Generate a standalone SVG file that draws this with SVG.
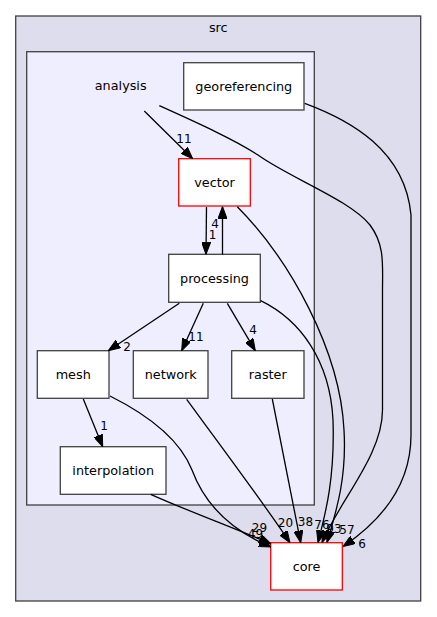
<svg xmlns="http://www.w3.org/2000/svg" width="437" height="617" viewBox="0 0 437 617">
<style>
text{font-family:"DejaVu Sans",sans-serif;fill:#000}
.n{font-size:12.8px;text-anchor:middle}
.l{font-size:12px;text-anchor:middle}
.box{fill:#fff;stroke:#404040;stroke-width:1.3}
.red{fill:#fff;stroke:#ff0000;stroke-width:1.3}
.e{fill:none;stroke:#000;stroke-width:1.3;marker-end:url(#arr)}
</style>
<defs>
<marker id="arr" viewBox="0 0 12 9" refX="12" refY="4.5" markerWidth="12" markerHeight="9" markerUnits="userSpaceOnUse" orient="auto">
<path d="M0,0 L12,4.5 L0,9 z" fill="#000" stroke="#000" stroke-width="1"/>
</marker>
</defs>
<rect x="0" y="0" width="437" height="617" fill="#fff"/>
<g id="cluster_src">
<rect x="15.7" y="16" width="405" height="585" fill="#ddddee" stroke="#404040" stroke-width="1.3"/>
<text class="n" x="218.3" y="31.7">src</text>
</g>
<g id="cluster_analysis">
<rect x="26.7" y="51.7" width="287.6" height="453.3" fill="#eeeeff" stroke="#404040" stroke-width="1.3"/>
</g>
<g id="node_analysis">
<text class="n" x="120.7" y="90">analysis</text>
</g>
<g id="node_georeferencing">
<rect class="box" x="183.7" y="62.7" width="120.3" height="47.3"/>
<text class="n" x="243.8" y="91">georeferencing</text>
</g>
<g id="node_vector">
<rect class="red" x="178.7" y="158.7" width="71.6" height="47.3"/>
<text class="n" x="214.5" y="187">vector</text>
</g>
<g id="node_processing">
<rect class="box" x="168.7" y="254.3" width="91.6" height="48"/>
<text class="n" x="214.5" y="283">processing</text>
</g>
<g id="node_mesh">
<rect class="box" x="37.3" y="350.7" width="71.7" height="47.6"/>
<text class="n" x="73.2" y="379">mesh</text>
</g>
<g id="node_network">
<rect class="box" x="133.3" y="350.7" width="74.7" height="47.6"/>
<text class="n" x="170.7" y="379">network</text>
</g>
<g id="node_raster">
<rect class="box" x="231.7" y="350.7" width="72.3" height="47.6"/>
<text class="n" x="267.8" y="379">raster</text>
</g>
<g id="node_interpolation">
<rect class="box" x="60.3" y="446.7" width="105.7" height="47.6"/>
<text class="n" x="113.2" y="475">interpolation</text>
</g>
<g id="node_core">
<rect class="red" x="270.7" y="542.7" width="71.6" height="47.3"/>
<text class="n" x="306.5" y="571">core</text>
</g>
<g id="edges">
<path class="e" d="M144.3,111 L192.7,158.7"/>
<text class="l" x="184" y="142.5">11</text>
<path class="e" d="M159.3,105.7 C200,124 235,140 258,155 C290,178 350,200 370,225 C385,245 382.5,265 382.5,290 L382.5,410 C382.5,455 340,500 322,542.5"/>
<path class="e" d="M304.7,103.3 C350,120 405,150 411,215 L411,435 C411,490 375,525 343,546.5"/>
<text class="l" x="362" y="548">6</text>
<path class="e" d="M206.5,207 L206,254.3"/>
<text class="l" x="212.5" y="238.5">1</text>
<path class="e" d="M222.5,254.3 L222.5,206.5"/>
<text class="l" x="215" y="228">4</text>
<path class="e" d="M237.3,206.7 C290,260 340,350 344,430 C347,480 335,515 327,542.5"/>
<path class="e" d="M260.7,300.7 C300,320 330,360 333,420 C335,480 325,515 318,542.5"/>
<path class="e" d="M179.3,303.3 L108.3,350.7"/>
<text class="l" x="127" y="350.5">2</text>
<path class="e" d="M203.3,303.3 L181.7,350.7"/>
<text class="l" x="196" y="340.5">11</text>
<path class="e" d="M227.3,303.3 L255.3,350.7"/>
<text class="l" x="253" y="334">4</text>
<path class="e" d="M83.3,399 L102.7,446.7"/>
<text class="l" x="104" y="430">1</text>
<path class="e" d="M110,396 C150,416 180,440 192,470 C205,505 230,530 271,547"/>
<text class="l" x="259.5" y="532">29</text>
<path class="e" d="M150.7,494.3 C190,512 240,530 271,544"/>
<text class="l" x="255.5" y="538">49</text>
<path class="e" d="M186.7,399.3 C220,445 265,505 290,542.7"/>
<text class="l" x="285.5" y="527">20</text>
<path class="e" d="M272.3,399 L300.7,542.7"/>
<text class="l" x="305.5" y="526">38</text>
<text class="l" x="322" y="529">76</text>
<text class="l" x="334" y="533">93</text>
<text class="l" x="347" y="534">57</text>
</g>
</svg>
